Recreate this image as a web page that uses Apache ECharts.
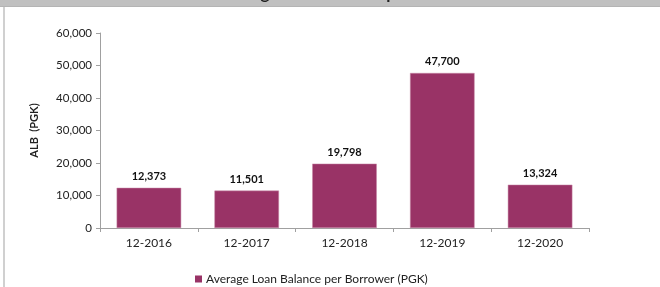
<!DOCTYPE html>
<html>
<head>
<meta charset="utf-8">
<script src="https://cdn.jsdelivr.net/npm/echarts@6/dist/echarts.min.js"></script>
<style>
  html, body { margin: 0; padding: 0; background: #fff; }
  #chart { width: 660px; height: 287px; }
</style>
</head>
<body>
<div id="chart"></div>
<script>
  // data
  var categories = ['12-2016', '12-2017', '12-2018', '12-2019', '12-2020']
  var albValues = [12373, 11501, 19798, 47700, 13324]
  var seriesName = 'Average Loan Balance per Borrower (PGK)'

  var myChart = echarts.init(document.getElementById('chart'))
  var fontFam = 'Lato, "Open Sans", "Liberation Sans", sans-serif'

  var option = {
    animation: false,
    textStyle: { fontFamily: fontFam },
    graphic: [
      // grey header band, title mostly cut off
      { type: 'rect', shape: { x: 0, y: 0, width: 660, height: 7 }, style: { fill: '#c0c0c0' }, z: 10 },
      { type: 'rect', shape: { x: 0, y: 6, width: 660, height: 1 }, style: { fill: '#b4b4b4' }, z: 10 },
      { type: 'text', x: 352, y: 2, z: 11,
        style: { text: 'Average Loan Balance per Borrower', textAlign: 'center', textVerticalAlign: 'bottom',
                 font: 'bold 17px ' + fontFam, fill: '#222' } },
      // left panel border
      { type: 'rect', shape: { x: 3, y: 7, width: 2, height: 280 }, style: { fill: '#d0d0d0' }, z: 10 }
    ],
    legend: {
      bottom: -3,
      left: 190,
      itemWidth: 7,
      itemHeight: 7,
      itemGap: 4,
      icon: 'rect',
      itemStyle: { borderWidth: 0 },
      textStyle: { fontSize: 12, color: '#222', fontFamily: fontFam, padding: [0, 0, 0, -1] },
      data: [seriesName]
    },
    grid: {
      left: 100,
      right: 71,
      top: 33,
      bottom: 59,
      containLabel: false
    },
    xAxis: {
      type: 'category',
      data: categories,
      axisLine: { lineStyle: { color: '#a0a0a0' } },
      axisTick: { show: true, length: 4, lineStyle: { color: '#a0a0a0' } },
      axisLabel: { color: '#222', fontSize: 12, margin: 9 },
      splitLine: { show: false }
    },
    yAxis: {
      type: 'value',
      min: 0,
      max: 60000,
      interval: 10000,
      name: 'ALB  (PGK)',
      nameLocation: 'middle',
      nameGap: 60,
      nameTextStyle: { fontWeight: 'bold', fontSize: 11, color: '#222' },
      axisLine: { show: true, lineStyle: { color: '#a0a0a0' } },
      axisTick: { show: true, length: 4, lineStyle: { color: '#a0a0a0' } },
      axisLabel: {
        color: '#222', fontSize: 11.5, margin: 8,
        formatter: function (v) { return v.toLocaleString('en-US') }
      },
      splitLine: { show: false }
    },
    series: [
      {
        name: seriesName,
        type: 'bar',
        barCategoryGap: '34%',
        itemStyle: { color: '#993366', borderColor: '#c88aa8', borderWidth: 0.5 },
        label: {
          show: true,
          position: 'top',
          distance: 6,
          fontWeight: 'bold',
          fontSize: 11,
          color: '#111',
          formatter: function (p) { return p.value.toLocaleString('en-US') }
        },
        data: albValues
      }
    ]
  }

  myChart.setOption(option)
</script>
</body>
</html>
